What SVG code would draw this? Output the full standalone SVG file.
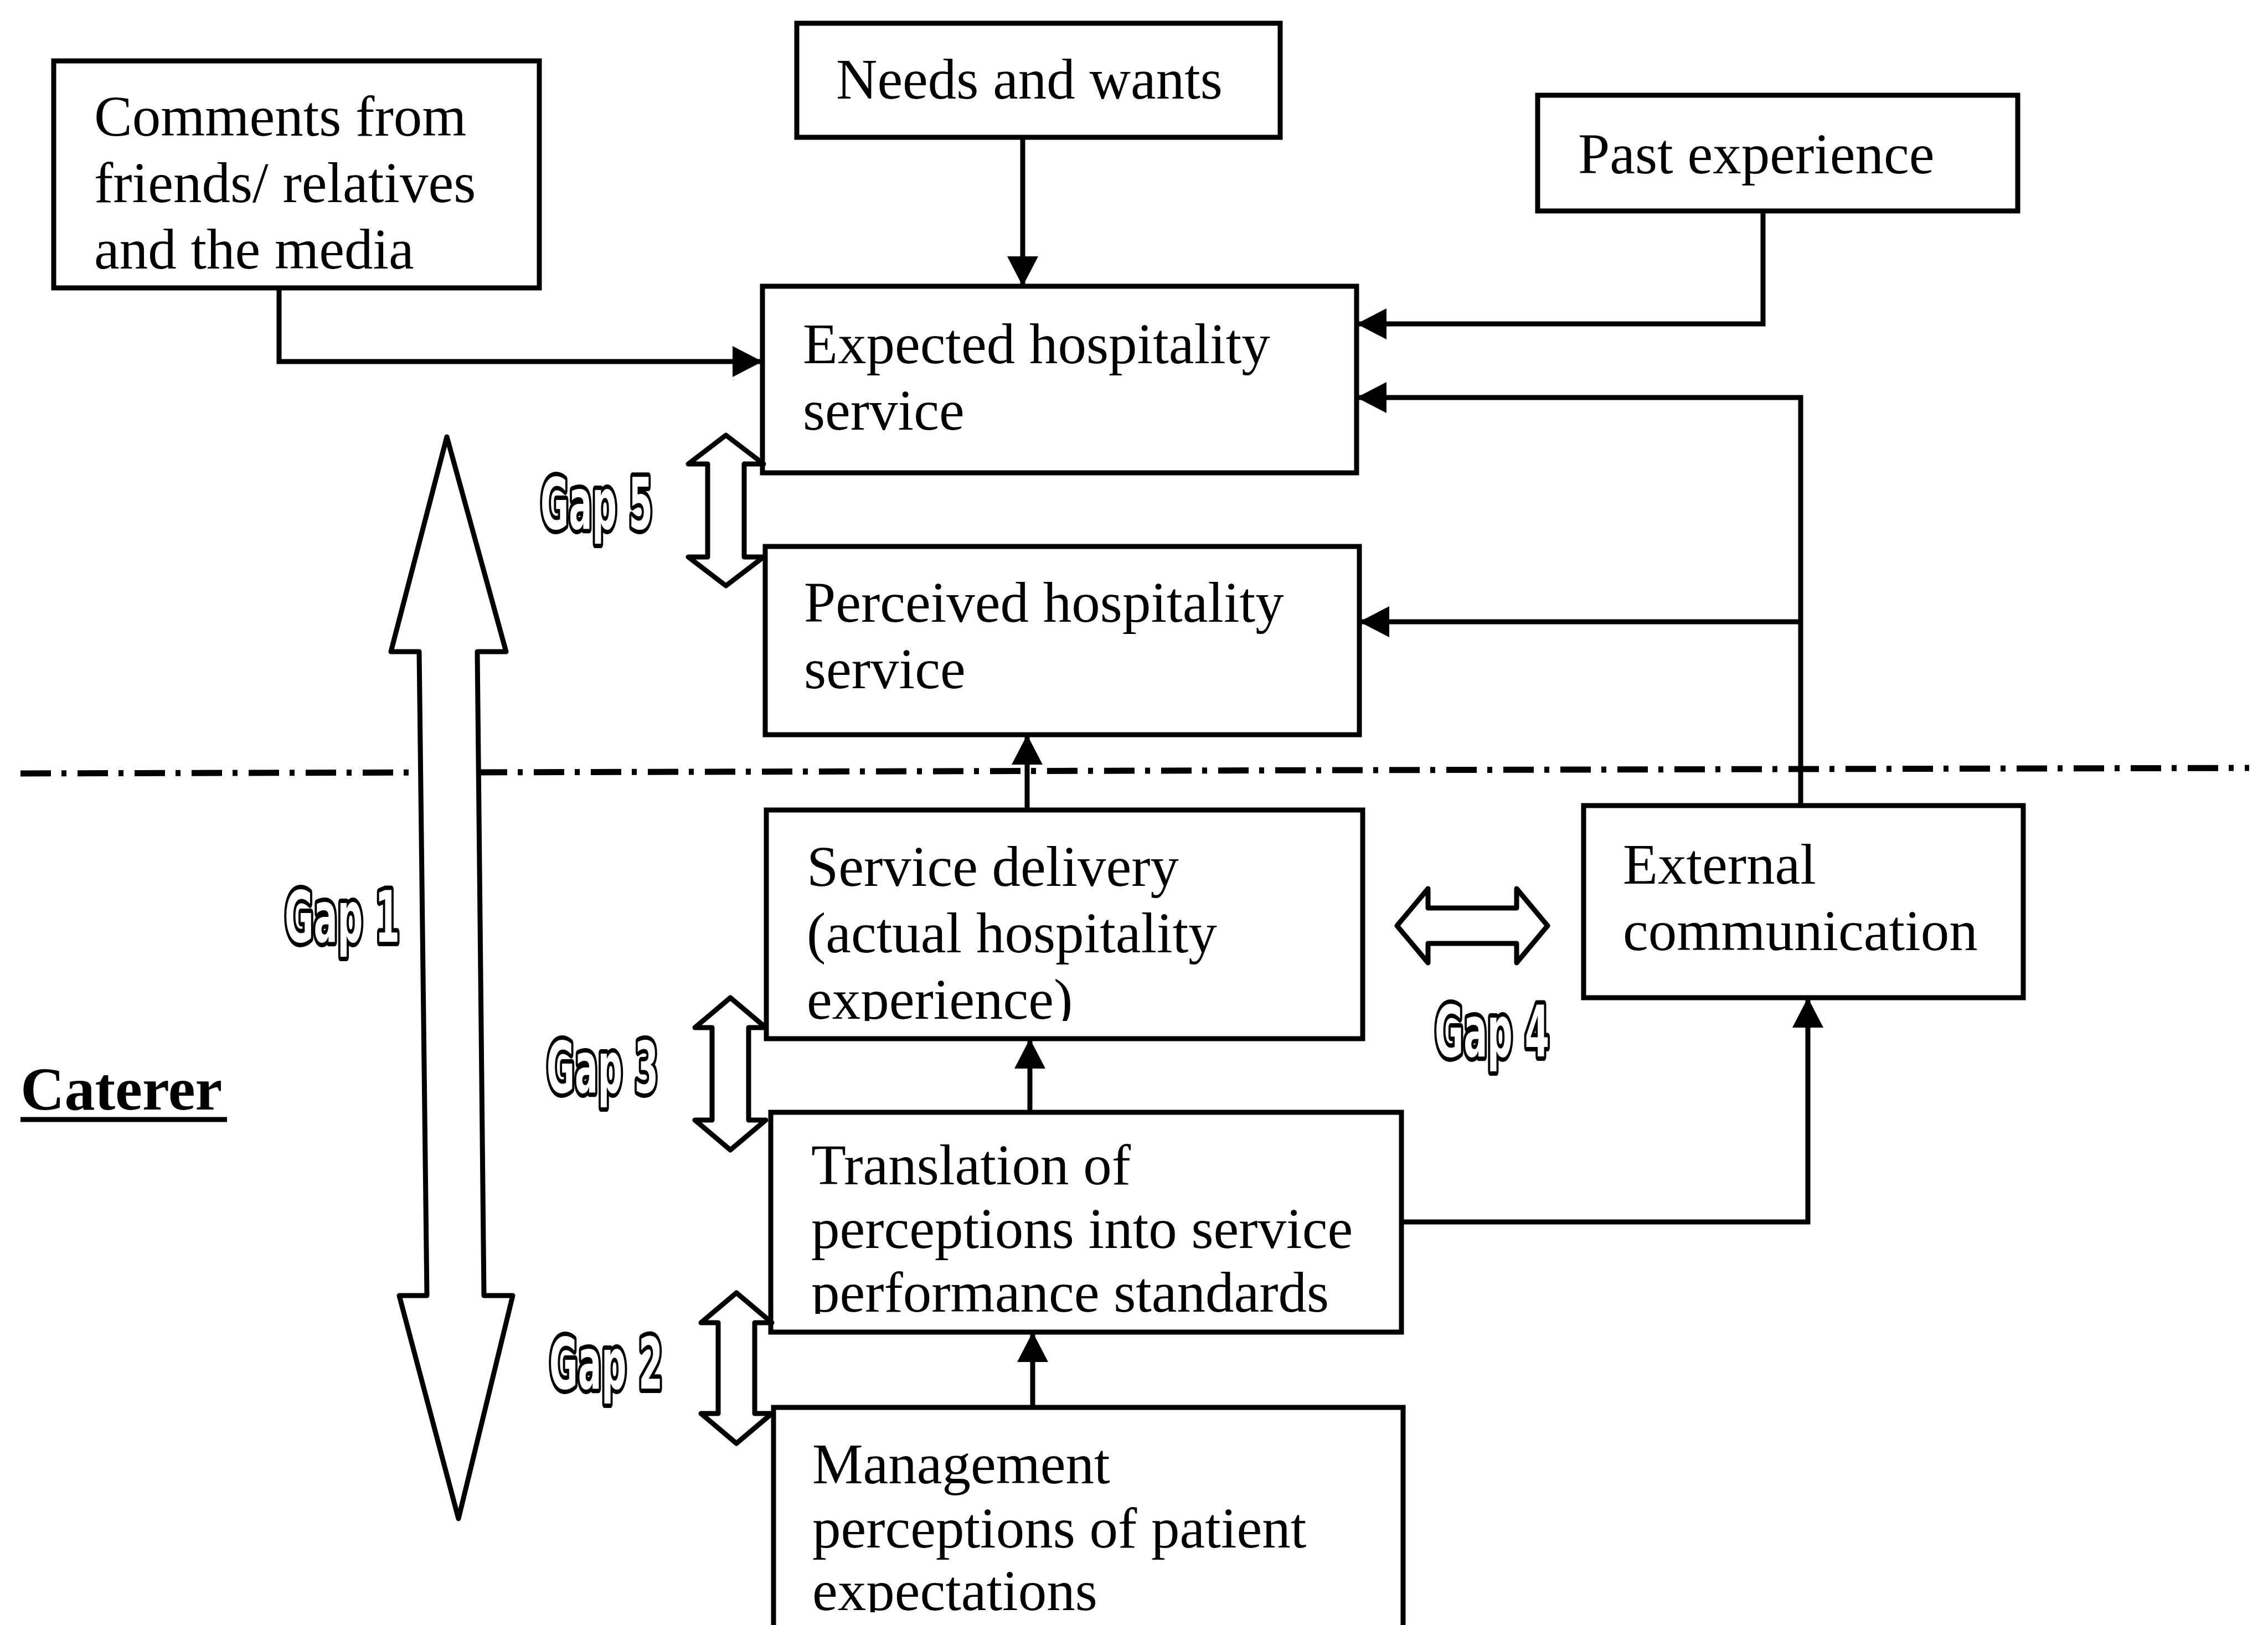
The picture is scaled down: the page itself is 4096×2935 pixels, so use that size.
<svg xmlns="http://www.w3.org/2000/svg" width="4096" height="2935" viewBox="0 0 4096 2935">
  <style>
    .box { fill: #fff; stroke: #000; stroke-width: 9; }
    .lbl { font-family: "Liberation Serif", "Times New Roman", serif; font-size: 103px; fill: #000; }
    .wire { fill: none; stroke: #000; stroke-width: 9; }
    .gap { fill: #fff; stroke: #000; stroke-width: 9; stroke-linejoin: round; }
    .gaptxt { font-family: "DejaVu Sans", "Liberation Sans", sans-serif; font-weight: bold; font-size: 128px; fill: #fff; stroke: #000; stroke-width: 16; paint-order: stroke; stroke-linejoin: round; }
  </style>
  <defs>
    <marker id="ah" viewBox="0 0 54 56" refX="54" refY="28" markerWidth="54" markerHeight="56" markerUnits="userSpaceOnUse" orient="auto">
      <path d="M0,0 L54,28 L0,56 Z" fill="#000"/>
    </marker>
    <clipPath id="clipService"><rect x="1384" y="1463" width="1077" height="381"/></clipPath>
    <clipPath id="clipTranslation"><rect x="1392" y="2009" width="1139" height="364"/></clipPath>
    <clipPath id="clipManagement"><rect x="1397" y="2542" width="1137" height="370"/></clipPath>
  </defs>
  <rect width="4096" height="2935" fill="#fff"/>

  <!-- boundary between customer side and caterer side -->
  <line id="boundary" x1="37" y1="1397" x2="4062" y2="1387" stroke="#000" stroke-width="11" stroke-dasharray="55 19 9 20"/>

  <!-- connectors -->
  <g id="connectors">
    <path class="wire" d="M504,520 V653 H1377" marker-end="url(#ah)"/>
    <path class="wire" d="M1847,248 V517" marker-end="url(#ah)"/>
    <path class="wire" d="M3184,381 V585 H2450" marker-end="url(#ah)"/>
    <path class="wire" d="M3252,1455 V718 H2450" marker-end="url(#ah)"/>
    <path class="wire" d="M3252,1123 H2455" marker-end="url(#ah)"/>
    <path class="wire" d="M1855,1463 V1327" marker-end="url(#ah)"/>
    <path class="wire" d="M1860,2009 V1876" marker-end="url(#ah)"/>
    <path class="wire" d="M1865,2542 V2406" marker-end="url(#ah)"/>
    <path class="wire" d="M2531,2207 H3265 V1802" marker-end="url(#ah)"/>
  </g>

  <!-- nodes -->
  <g id="comments">
    <rect class="box" x="97" y="110" width="877" height="410"/>
    <text class="lbl" x="170" y="245">Comments from</text>
    <text class="lbl" x="170" y="365">friends/ relatives</text>
    <text class="lbl" x="170" y="485">and the media</text>
  </g>
  <g id="needs">
    <rect class="box" x="1439" y="42" width="873" height="206"/>
    <text class="lbl" x="1510" y="178">Needs and wants</text>
  </g>
  <g id="past">
    <rect class="box" x="2777" y="172" width="867" height="209"/>
    <text class="lbl" x="2850" y="313">Past experience</text>
  </g>
  <g id="expected">
    <rect class="box" x="1377" y="517" width="1073" height="337"/>
    <text class="lbl" x="1450" y="656">Expected hospitality</text>
    <text class="lbl" x="1450" y="776">service</text>
  </g>
  <g id="perceived">
    <rect class="box" x="1382" y="987" width="1073" height="340"/>
    <text class="lbl" x="1452" y="1123">Perceived hospitality</text>
    <text class="lbl" x="1452" y="1243">service</text>
  </g>
  <g id="service">
    <rect class="box" x="1384" y="1463" width="1077" height="413"/>
    <g clip-path="url(#clipService)">
      <text class="lbl" x="1457" y="1600">Service delivery</text>
      <text class="lbl" x="1457" y="1720">(actual hospitality</text>
      <text class="lbl" x="1457" y="1840">experience)</text>
    </g>
  </g>
  <g id="external">
    <rect class="box" x="2860" y="1455" width="794" height="347"/>
    <text class="lbl" x="2931" y="1596">External</text>
    <text class="lbl" x="2931" y="1716">communication</text>
  </g>
  <g id="translation">
    <rect class="box" x="1392" y="2009" width="1139" height="397"/>
    <g clip-path="url(#clipTranslation)">
      <text class="lbl" x="1465" y="2139">Translation of</text>
      <text class="lbl" x="1465" y="2254">perceptions into service</text>
      <text class="lbl" x="1465" y="2369">performance standards</text>
    </g>
  </g>
  <g id="management">
    <path class="box" d="M1397,2945 V2542 H2534 V2945"/>
    <g clip-path="url(#clipManagement)">
      <text class="lbl" x="1467" y="2679">Management</text>
      <text class="lbl" x="1467" y="2795">perceptions of patient</text>
      <text class="lbl" x="1467" y="2908">expectations</text>
    </g>
  </g>

  <!-- gap arrows -->
  <g id="gap1">
    <path class="gap" d="M807,789 L914,1177 L862,1177 L874,2340 L926,2340 L828,2743 L721,2340 L771,2340 L757,1177 L706,1177 Z"/>
    <text class="gaptxt" x="514" y="1701" textLength="208" lengthAdjust="spacingAndGlyphs">Gap 1</text>
  </g>
  <g id="gap2">
    <path class="gap" d="M1330,2335 L1394,2389 L1363,2389 L1363,2553 L1394,2553 L1330,2607 L1266,2553 L1297,2553 L1297,2389 L1266,2389 Z"/>
    <text class="gaptxt" x="992" y="2508" textLength="205" lengthAdjust="spacingAndGlyphs">Gap 2</text>
  </g>
  <g id="gap3">
    <path class="gap" d="M1319,1802 L1383,1856 L1352,1856 L1352,2023 L1383,2023 L1319,2077 L1255,2023 L1286,2023 L1286,1856 L1255,1856 Z"/>
    <text class="gaptxt" x="987" y="1973" textLength="202" lengthAdjust="spacingAndGlyphs">Gap 3</text>
  </g>
  <g id="gap4">
    <path class="gap" d="M2523,1672 L2579,1605 L2579,1640 L2739,1640 L2739,1605 L2795,1672 L2739,1739 L2739,1704 L2579,1704 L2579,1739 Z"/>
    <text class="gaptxt" x="2591" y="1908" textLength="207" lengthAdjust="spacingAndGlyphs">Gap 4</text>
  </g>
  <g id="gap5">
    <path class="gap" d="M1311,786 L1379,838 L1344,838 L1344,1006 L1379,1006 L1311,1058 L1243,1006 L1278,1006 L1278,838 L1243,838 Z"/>
    <text class="gaptxt" x="976" y="955" textLength="203" lengthAdjust="spacingAndGlyphs">Gap 5</text>
  </g>

  <!-- side label -->
  <g id="caterer">
    <text x="37" y="2004" font-family="'Liberation Serif', 'Times New Roman', serif" font-weight="bold" font-size="110" fill="#000">Caterer</text>
    <line x1="37" y1="2022" x2="410" y2="2022" stroke="#000" stroke-width="9"/>
  </g>
</svg>
